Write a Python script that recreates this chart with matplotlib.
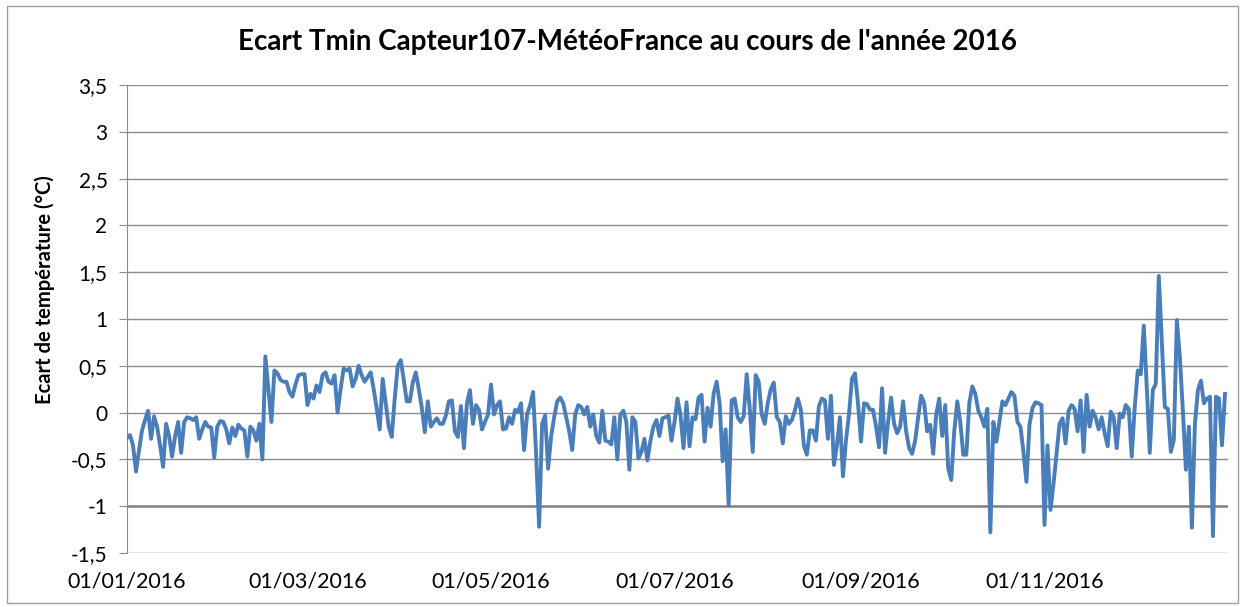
import numpy as np
import pandas as pd
import matplotlib
matplotlib.use("Agg")
import matplotlib.pyplot as plt
import matplotlib.dates as mdates

# ecart Tmin capteur 107 - MeteoFrance, un point par jour (2016)
jan = [-0.27, -0.24, -0.35, -0.63, -0.40, -0.19, -0.08, 0.02, -0.28, -0.04,
       -0.15, -0.35, -0.58, -0.12, -0.25, -0.47, -0.25, -0.10, -0.43, -0.10,
       -0.05, -0.06, -0.08, -0.05, -0.28, -0.18, -0.10, -0.15, -0.16, -0.48,
       -0.15]
fev = [-0.09, -0.10, -0.18, -0.33, -0.16, -0.25, -0.13, -0.17, -0.19, -0.47,
       -0.15, -0.19, -0.30, -0.12, -0.50, 0.60, 0.25, -0.10, 0.45, 0.42,
       0.35, 0.33, 0.33, 0.22, 0.17, 0.30, 0.40, 0.41, 0.41]
mar = [0.08, 0.20, 0.15, 0.29, 0.22, 0.40, 0.43, 0.33, 0.31, 0.40,
       0.00, 0.25, 0.47, 0.45, 0.47, 0.28, 0.36, 0.50, 0.40, 0.33,
       0.38, 0.43, 0.25, 0.05, -0.18, 0.36, 0.10, -0.15, -0.26, 0.15,
       0.50]
avr = [0.56, 0.35, 0.12, 0.12, 0.32, 0.43, 0.25, 0.05, -0.21, 0.12,
       -0.15, -0.10, -0.06, -0.12, -0.12, -0.03, 0.12, 0.13, -0.20, -0.26,
       0.07, -0.38, 0.10, 0.24, -0.12, 0.08, 0.03, -0.18, -0.10, -0.02]
mai = [0.30, -0.02, 0.08, 0.12, -0.18, -0.17, -0.05, -0.12, 0.03, 0.01,
       0.10, -0.40, -0.02, 0.08, 0.22, -0.45, -1.22, -0.12, -0.03, -0.60,
       -0.25, -0.05, 0.12, 0.16, 0.10, -0.05, -0.20, -0.40, -0.02, 0.08,
       0.06]
juin = [-0.02, 0.06, -0.15, -0.02, -0.25, -0.32, 0.02, -0.30, -0.31, -0.34,
        -0.05, -0.50, -0.02, 0.02, -0.10, -0.61, -0.05, -0.10, -0.49, -0.42,
        -0.28, -0.51, -0.30, -0.15, -0.08, -0.25, -0.06, -0.05, -0.03, -0.30]
juil = [-0.10, 0.15, -0.03, -0.38, 0.11, -0.36, -0.05, -0.07, 0.16, 0.19,
        -0.31, 0.05, -0.15, 0.20, 0.33, 0.10, -0.52, -0.18, -0.99, 0.13,
        0.15, -0.05, -0.10, -0.04, 0.41, 0.05, -0.42, 0.40, 0.33, -0.02,
        -0.12]
aout = [0.10, 0.25, 0.32, -0.05, -0.10, -0.33, -0.04, -0.12, -0.08, 0.02,
        0.15, 0.03, -0.35, -0.45, -0.19, -0.19, -0.30, 0.07, 0.15, 0.13,
        -0.28, 0.18, -0.56, -0.35, -0.05, -0.68, -0.30, -0.02, 0.36, 0.42,
        0.10]
sep = [-0.31, 0.10, 0.09, 0.03, 0.03, -0.15, -0.37, 0.26, -0.43, -0.10,
       0.16, -0.12, -0.22, -0.15, 0.12, -0.20, -0.38, -0.44, -0.30, -0.05,
       0.18, 0.10, -0.20, -0.13, -0.44, -0.02, 0.15, -0.25, 0.08, -0.60]
octo = [-0.72, -0.20, 0.12, -0.10, -0.45, -0.45, 0.10, 0.28, 0.20, 0.02,
        -0.05, -0.15, 0.04, -1.28, -0.10, -0.31, -0.10, 0.12, 0.08, 0.15,
        0.22, 0.18, -0.10, -0.15, -0.42, -0.74, -0.13, 0.05, 0.11, 0.10,
        0.08]
nov = [-1.20, -0.35, -1.04, -0.76, -0.44, -0.12, -0.06, -0.33, 0.02, 0.08,
       0.04, -0.20, 0.13, -0.42, 0.19, -0.15, 0.02, -0.05, -0.18, -0.05,
       -0.22, -0.36, 0.01, -0.05, -0.38, -0.01, -0.05, 0.08, 0.04, -0.47]
dec = [0.06, 0.45, 0.41, 0.93, 0.27, -0.43, 0.24, 0.31, 1.46, 0.77,
       0.06, 0.04, -0.42, -0.29, 0.99, 0.59, 0.02, -0.61, -0.15, -1.23,
       -0.12, 0.24, 0.34, 0.10, 0.15, 0.17, -1.32, 0.17, 0.15, -0.35,
       0.20]

ecart = jan + fev + mar + avr + mai + juin + juil + aout + sep + octo + nov + dec
jours = pd.date_range("2016-01-01", periods=len(ecart), freq="D")

yticks = [-1.5, -1, -0.5, 0, 0.5, 1, 1.5, 2, 2.5, 3, 3.5]
xticks = pd.to_datetime(["2016-01-01", "2016-03-01", "2016-05-01",
                         "2016-07-01", "2016-09-01", "2016-11-01"])

plt.rcParams["font.family"] = ["Lato", "DejaVu Sans"]

fig = plt.figure(figsize=(12.45, 6.07), dpi=100)
ax = fig.add_axes([127/1245, 1 - 553/607, (1228 - 127)/1245, (553 - 85)/607])

# bordure du graphique (style Excel)
fig.patches.append(plt.Rectangle((0.006, 0.006), 0.988, 0.984, transform=fig.transFigure,
                                 fill=False, edgecolor="#a0a0a0", linewidth=1))

for v in yticks:
    if v == -1:
        ax.axhline(v, color="#808080", linewidth=1.8, zorder=1)
    else:
        ax.axhline(v, color="#8c8c8c", linewidth=1.0, zorder=1)

ax.plot(jours, ecart, color="#4a7ebb", linewidth=2.8, zorder=3)

ax.set_xlim(pd.Timestamp("2016-01-01"), pd.Timestamp("2017-01-01"))
ax.set_ylim(-1.5, 3.5)
ax.set_yticks(yticks)
ax.set_yticklabels([("%g" % v).replace(".", ",") for v in yticks])
ax.set_xticks(xticks)
ax.xaxis.set_major_formatter(mdates.DateFormatter("%d/%m/%Y"))

for s in ["top", "right", "bottom"]:
    ax.spines[s].set_visible(False)
ax.spines["left"].set_color("#8c8c8c")
ax.tick_params(axis="y", length=6, color="#8c8c8c", labelsize=15, pad=8)
ax.tick_params(axis="x", length=0, labelsize=15.5, pad=13)

fig.text(45/1245, 1 - 290/607, "Ecart de température (°C)", rotation=90,
         ha="center", va="center", fontsize=14.5, fontweight="bold")
fig.text(0.504, 0.931, "Ecart Tmin Capteur107-MétéoFrance au cours de l'année 2016",
         ha="center", va="center", fontsize=20, fontweight="bold")

plt.savefig("out.png", dpi=100)
